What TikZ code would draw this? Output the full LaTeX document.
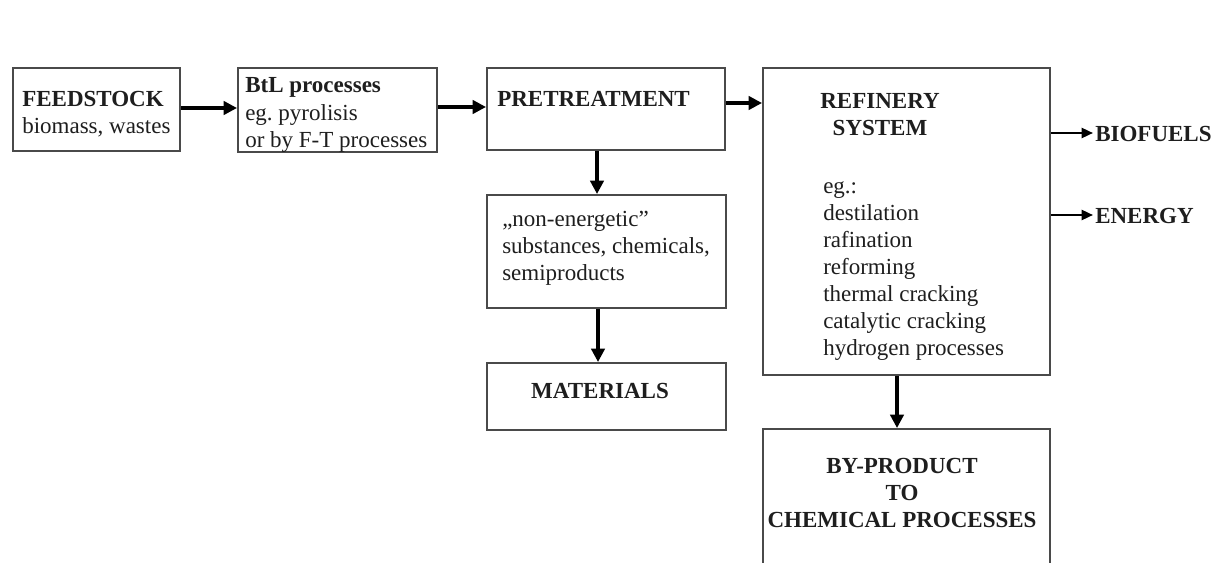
\documentclass[tikz,border=0pt]{standalone}
\usepackage{fontspec}
\setmainfont{Liberation Serif}
\usetikzlibrary{arrows.meta,fit}
\definecolor{boxgray}{HTML}{4A4A4A}
\definecolor{textgray}{HTML}{1E1E1E}
\begin{document}
\begin{tikzpicture}[x=0.75pt,y=-0.75pt,
  box/.style={draw=boxgray, line width=1.5pt, inner sep=0pt},
  txt/.style={text=textgray, inner sep=0pt, align=left, font=\fontsize{17.25}{20.25}\selectfont\frenchspacing},
  ctxt/.style={txt, align=center},
  arr/.style={draw=black, line width=2.4pt, -{Triangle[length=10pt,width=10pt]}},
  sarr/.style={draw=black, line width=1.7pt, -{Triangle[length=8.5pt,width=7.5pt]}}
]
\clip (0,0) rectangle (1219,563);
\fill[white] (0,0) rectangle (1219,563);

% boxes
\node[box, fit={(13,68)(180,151)}] (feed) {};
\node[box, fit={(238,68)(437,152)}] (btl) {};
\node[box, fit={(487,68)(725,150)}] (pre) {};
\node[box, fit={(763,68)(1050,375)}] (ref) {};
\node[box, fit={(487,195)(726,308)}] (non) {};
\node[box, fit={(487,363)(726,430)}] (mat) {};
\node[box, fit={(763,429)(1050,600)}] (byp) {};

% texts (anchored at the baseline of the last line)
\node[txt, anchor=base west] (tfeed) at (22,133) {\textbf{FEEDSTOCK}\\biomass, wastes};
\node[txt, anchor=base west] (tbtl) at (245,147) {\textbf{BtL processes}\\eg. pyrolisis\\or by F-T processes};
\node[txt, anchor=base west] (tpre) at (497,107) {\textbf{PRETREATMENT}};
\node[ctxt, anchor=base] (tref) at (880,136) {\textbf{REFINERY}\\\textbf{SYSTEM}};
\node[txt, anchor=base west] (tlist) at (823,355) {eg.:\\destilation\\rafination\\reforming\\thermal cracking\\catalytic cracking\\hydrogen processes};
\node[txt, anchor=base west] (tnon) at (502,280) {„non-energetic”\\substances, chemicals,\\semiproducts};
\node[ctxt, anchor=base] (tmat) at (600,398) {\textbf{MATERIALS}};
\node[ctxt, anchor=base] (tbyp) at (902,527) {\textbf{BY-PRODUCT}\\\textbf{TO}\\\textbf{CHEMICAL PROCESSES}};
\node[txt, anchor=base west] (bio) at (1095,142) {\textbf{BIOFUELS}};
\node[txt, anchor=base west] (ene) at (1095,223) {\textbf{ENERGY}};

% connectors
\draw[arr] (feed.east |- 0,108) -- (btl.west |- 0,108);
\draw[arr] (btl.east |- 0,107) -- (pre.west |- 0,107);
\draw[arr] (pre.east |- 0,103) -- (ref.west |- 0,103);
\draw[arr] (597,0 |- pre.south) -- (597,0 |- non.north);
\draw[arr] (598,0 |- non.south) -- (598,0 |- mat.north);
\draw[arr] (897,0 |- ref.south) -- (897,0 |- byp.north);
\draw[sarr] (ref.east |- 0,133) -- (1093,133) coordinate (bioin);
\draw[sarr] (ref.east |- 0,215) -- (1093,215) coordinate (enein);
\end{tikzpicture}
\end{document}
